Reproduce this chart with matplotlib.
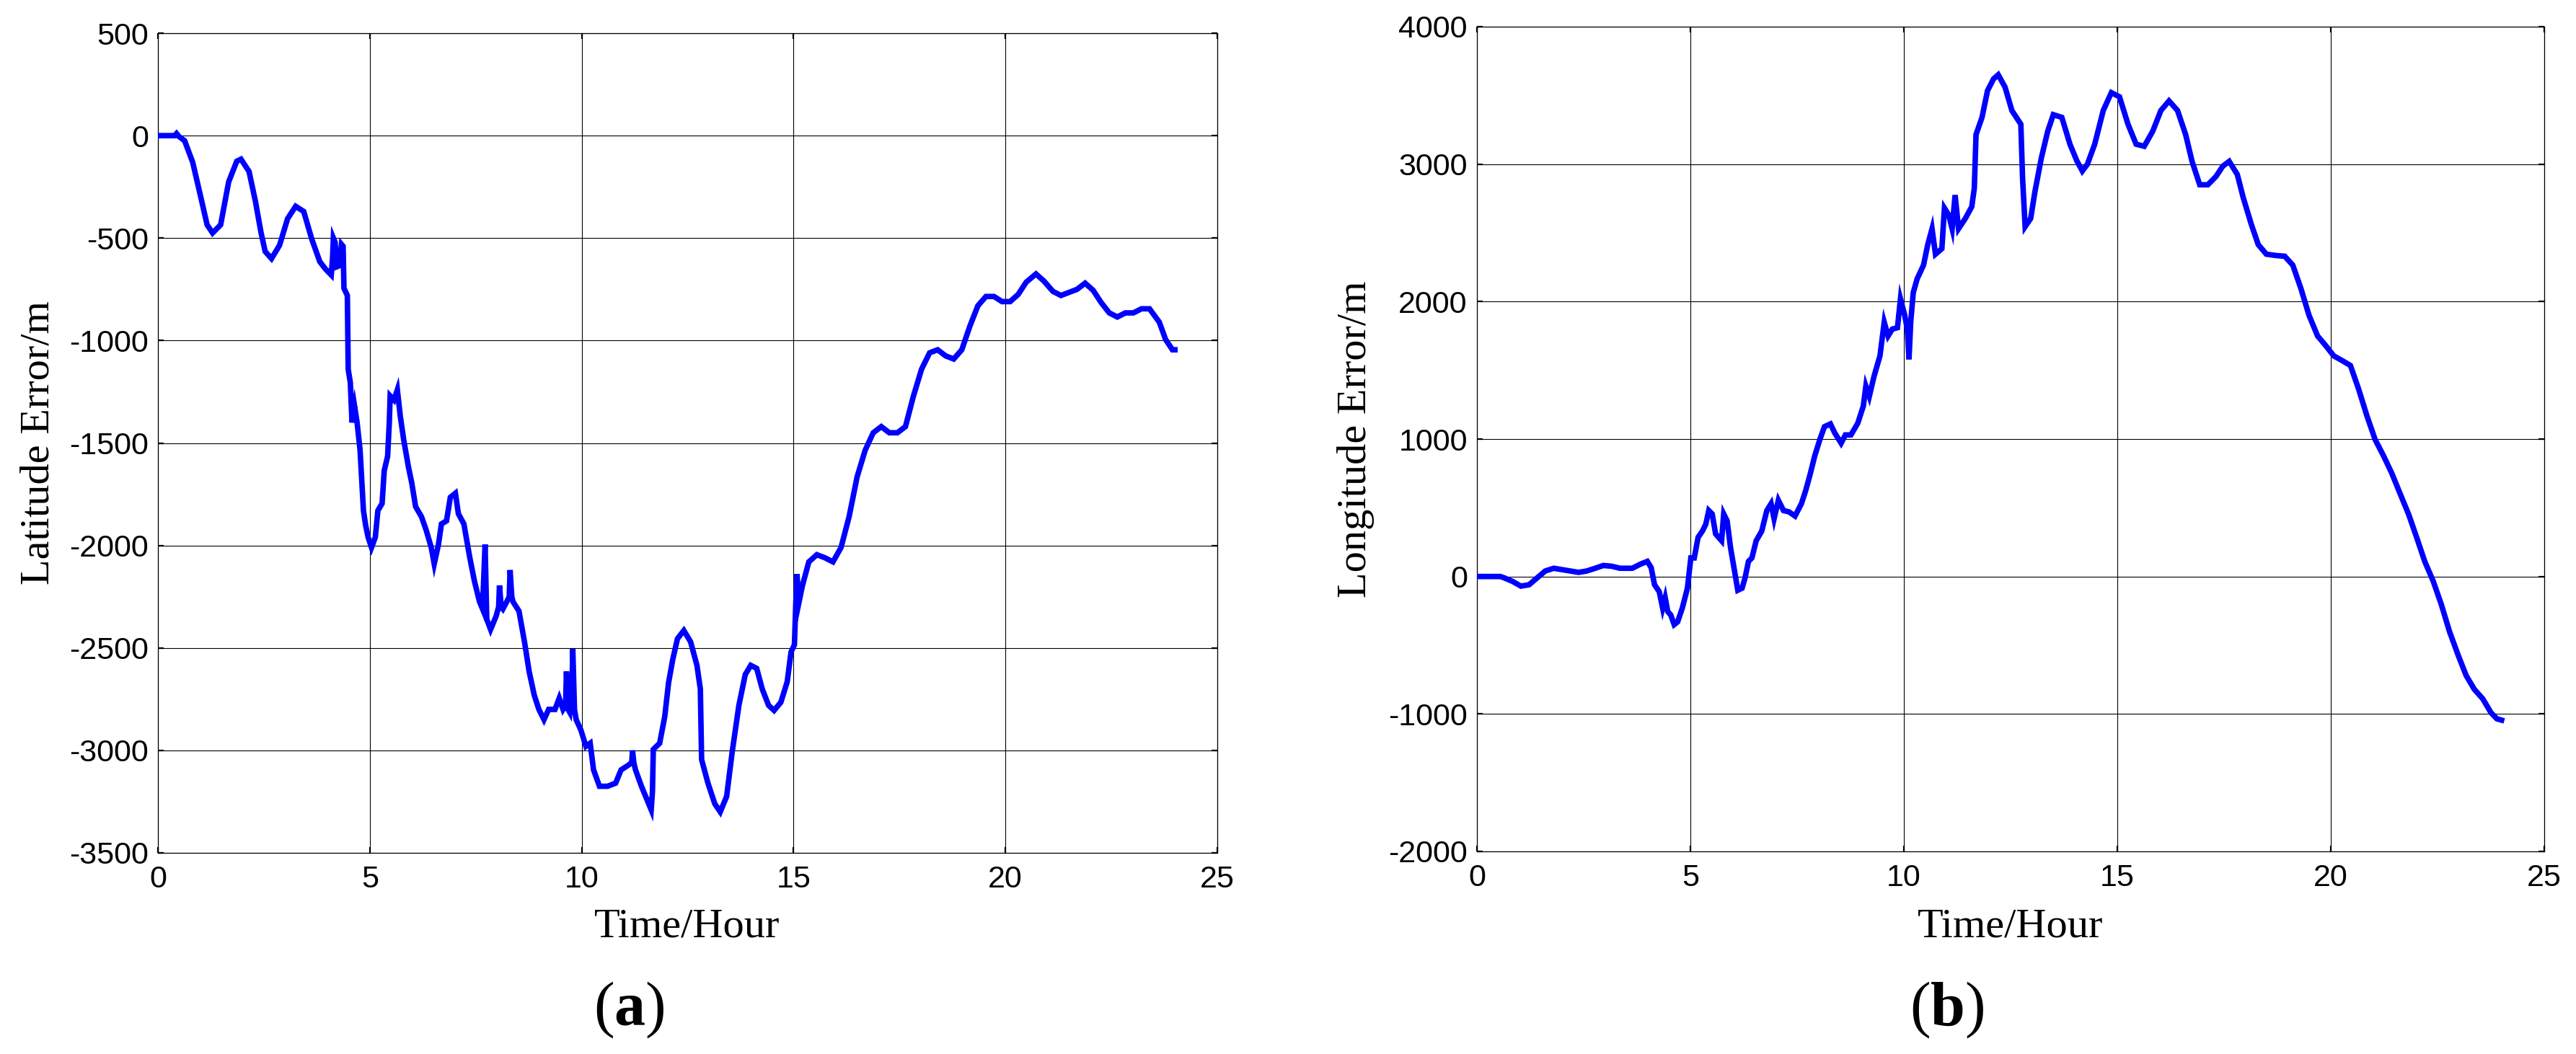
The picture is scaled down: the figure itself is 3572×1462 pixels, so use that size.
import matplotlib
matplotlib.use("Agg")
import matplotlib.pyplot as plt

plt.rcParams["axes.unicode_minus"] = False
plt.rcParams["mathtext.fontset"] = "custom"
plt.rcParams["mathtext.rm"] = "Liberation Serif"
plt.rcParams["mathtext.bf"] = "Liberation Serif:bold"

# ---------------- data ----------------
lat_t = [0, 0.40, 0.44, 0.50, 0.63, 0.82, 1.0, 1.16, 1.29, 1.48,
         1.67, 1.86, 1.96, 2.15, 2.3, 2.43, 2.53, 2.68, 2.87, 3.06,
         3.25, 3.44, 3.63, 3.82, 3.95, 4.09, 4.12, 4.14, 4.18, 4.22,
         4.28, 4.33, 4.37, 4.39, 4.47, 4.49, 4.54, 4.58, 4.64, 4.70,
         4.77, 4.85, 4.90, 4.96, 5.04, 5.13, 5.19, 5.29, 5.34, 5.42,
         5.46, 5.48, 5.57, 5.65, 5.72, 5.80, 5.91, 5.99, 6.08, 6.22,
         6.33, 6.45, 6.52, 6.62, 6.69, 6.81, 6.9, 7.02, 7.09, 7.22,
         7.36, 7.47, 7.59, 7.66, 7.70, 7.72, 7.76, 7.85, 7.98, 8.04,
         8.06, 8.10, 8.14, 8.23, 8.29, 8.31, 8.35, 8.38, 8.52, 8.65,
         8.76, 8.88, 8.99, 9.11, 9.22, 9.37, 9.47, 9.56, 9.62, 9.64,
         9.68, 9.72, 9.77, 9.79, 9.83, 9.87, 9.98, 10.1, 10.2, 10.28,
         10.42, 10.61, 10.8, 10.93, 11.08, 11.18, 11.2, 11.23, 11.27, 11.41,
         11.54, 11.64, 11.67, 11.69, 11.84, 11.96, 12.05, 12.15, 12.26, 12.41,
         12.57, 12.72, 12.80, 12.83, 12.98, 13.14, 13.27, 13.42, 13.55, 13.71,
         13.86, 13.99, 14.13, 14.26, 14.41, 14.54, 14.70, 14.85, 14.94, 15.02,
         15.05, 15.08, 15.13, 15.21, 15.36, 15.55, 15.74, 15.93, 16.12, 16.31,
         16.5, 16.69, 16.88, 17.07, 17.26, 17.45, 17.64, 17.83, 18.02, 18.21,
         18.4, 18.59, 18.78, 18.97, 19.16, 19.35, 19.54, 19.73, 19.92, 20.11,
         20.3, 20.49, 20.72, 20.91, 21.12, 21.31, 21.5, 21.69, 21.88, 22.07,
         22.26, 22.45, 22.64, 22.83, 23.02, 23.21, 23.4, 23.63, 23.78, 23.94,
         24.0]
lat_err = [0, 0, 10, -5, -25, -130, -290, -435, -475, -435,
           -225, -125, -115, -175, -320, -470, -565, -600, -535, -405,
           -345, -370, -505, -615, -650, -680, -600, -500, -520, -640,
           -635, -530, -540, -745, -780, -1140, -1205, -1400, -1320, -1400,
           -1535, -1830, -1900, -1960, -2010, -1960, -1830, -1795, -1635, -1565,
           -1400, -1270, -1290, -1240, -1370, -1485, -1615, -1695, -1810, -1860,
           -1925, -2010, -2090, -1995, -1895, -1880, -1765, -1745, -1845, -1895,
           -2060, -2175, -2275, -2310, -2100, -1995, -2360, -2410, -2345, -2300,
           -2195, -2300, -2310, -2275, -2250, -2120, -2250, -2275, -2320, -2470,
           -2615, -2730, -2800, -2850, -2800, -2800, -2745, -2800, -2780, -2615,
           -2800, -2815, -2700, -2505, -2800, -2850, -2900, -2980, -2965, -3095,
           -3175, -3175, -3160, -3095, -3075, -3060, -3000, -3060, -3095, -3175,
           -3240, -3290, -3200, -2995, -2965, -2835, -2670, -2555, -2455, -2415,
           -2470, -2585, -2700, -3045, -3160, -3260, -3300, -3225, -3010, -2780,
           -2630, -2585, -2600, -2700, -2780, -2805, -2765, -2665, -2520, -2485,
           -2300, -2140, -2275, -2195, -2080, -2045, -2060, -2080, -2010, -1860,
           -1665, -1535, -1450, -1420, -1450, -1450, -1420, -1270, -1140, -1060,
           -1045, -1075, -1090, -1045, -930, -830, -785, -785, -810, -810,
           -775, -715, -675, -710, -760, -780, -765, -750, -720, -755,
           -815, -865, -885, -865, -865, -845, -845, -910, -995, -1045,
           -1045]

lon_t = [0, 0.55, 0.64, 0.83, 1.03, 1.22, 1.41, 1.6, 1.8, 1.99,
         2.19, 2.38, 2.57, 2.77, 2.96, 3.15, 3.35, 3.64, 3.83, 3.99,
         4.08, 4.16, 4.27, 4.35, 4.41, 4.47, 4.54, 4.62, 4.70, 4.81,
         4.93, 5.01, 5.09, 5.18, 5.28, 5.36, 5.43, 5.51, 5.59, 5.66,
         5.73, 5.78, 5.86, 5.94, 6.02, 6.11, 6.21, 6.28, 6.36, 6.44,
         6.54, 6.67, 6.79, 6.89, 6.96, 7.06, 7.18, 7.31, 7.45, 7.6,
         7.7, 7.81, 7.91, 8.03, 8.14, 8.28, 8.38, 8.53, 8.63, 8.76,
         8.92, 9.05, 9.11, 9.19, 9.3, 9.44, 9.54, 9.63, 9.73, 9.85,
         9.92, 10.02, 10.08, 10.12, 10.16, 10.22, 10.31, 10.46, 10.56, 10.66,
         10.74, 10.89, 10.95, 11.05, 11.13, 11.2, 11.28, 11.44, 11.59, 11.65,
         11.69, 11.83, 11.96, 12.1, 12.21, 12.37, 12.53, 12.74, 12.78, 12.84,
         12.97, 13.07, 13.22, 13.37, 13.5, 13.7, 13.89, 14.05, 14.18, 14.3,
         14.47, 14.67, 14.86, 15.05, 15.25, 15.44, 15.63, 15.83, 16.02, 16.21,
         16.41, 16.6, 16.75, 16.93, 17.12, 17.31, 17.47, 17.62, 17.81, 17.95,
         18.14, 18.3, 18.49, 18.72, 18.92, 19.11, 19.3, 19.49, 19.69, 19.88,
         20.07, 20.27, 20.46, 20.65, 20.85, 21.04, 21.24, 21.43, 21.62, 21.82,
         22.01, 22.2, 22.4, 22.59, 22.78, 22.98, 23.17, 23.36, 23.56, 23.75,
         23.89, 24.0]
lon_err = [0, 0, -10, -35, -70, -60, -10, 40, 60, 50,
           40, 30, 40, 60, 80, 75, 60, 60, 90, 110,
           65, -60, -110, -230, -155, -255, -280, -350, -330, -230,
           -85, 135, 135, 285, 330, 380, 480, 455, 310, 285,
           260, 455, 405, 210, 65, -100, -85, -10, 110, 135,
           260, 330, 480, 530, 420, 555, 480, 470, 440, 530,
           625, 750, 875, 995, 1090, 1110, 1045, 970, 1030, 1030,
           1115, 1240, 1385, 1310, 1455, 1605, 1850, 1750, 1800, 1810,
           2020, 1900, 1800, 1580, 1850, 2065, 2165, 2265, 2415, 2530,
           2345, 2385, 2680, 2630, 2530, 2775, 2530, 2605, 2690, 2825,
           3215, 3340, 3535, 3620, 3650, 3560, 3390, 3290, 2900, 2545,
           2605, 2800, 3045, 3240, 3360, 3340, 3145, 3025, 2950, 3000,
           3145, 3390, 3520, 3490, 3290, 3145, 3130, 3240, 3390, 3460,
           3390, 3215, 3020, 2850, 2850, 2910, 2985, 3020, 2925, 2755,
           2560, 2415, 2345, 2335, 2330, 2265, 2095, 1900, 1750, 1680,
           1605, 1570, 1535, 1365, 1165, 995, 875, 750, 605, 455,
           285, 110, -35, -205, -400, -570, -720, -820, -890, -990,
           -1035, -1045]

x_ticks = [0, 5, 10, 15, 20, 25]
lat_ticks = [-3500, -3000, -2500, -2000, -1500, -1000, -500, 0, 500]
lon_ticks = [-2000, -1000, 0, 1000, 2000, 3000, 4000]

x_label = "Time/Hour"
lat_label = "Latitude Error/m"
lon_label = "Longitude Error/m"
panel_tags = ["($\\mathbf{a}$)", "($\\mathbf{b}$)"]

# ---------------- figure ----------------
W, H = 3572, 1462
fig = plt.figure(figsize=(W / 100, H / 100), dpi=100)
fig.patch.set_facecolor("white")

ax1 = fig.add_axes([219 / W, 1 - 1183 / H, 1469 / W, (1183 - 46) / H])
ax2 = fig.add_axes([2048 / W, 1 - 1181 / H, 1480 / W, (1181 - 37) / H])

tick_family = ["Liberation Sans Narrow", "Liberation Sans", "DejaVu Sans"]
serif = ["Liberation Serif", "DejaVu Serif"]

for ax, t, v, yt in [(ax1, lat_t, lat_err, lat_ticks), (ax2, lon_t, lon_err, lon_ticks)]:
    ax.plot(t, v, color="#0000ff", lw=5.5, solid_joinstyle="miter", zorder=3)
    ax.set_xlim(x_ticks[0], x_ticks[-1])
    ax.set_ylim(yt[0], yt[-1])
    ax.set_xticks(x_ticks)
    ax.set_yticks(yt)
    ax.grid(True, color="black", lw=0.8, ls="-")
    ax.set_axisbelow(True)
    for s in ax.spines.values():
        s.set_linewidth(0.9)
        s.set_color("black")
    ax.tick_params(direction="in", length=6, width=1.6, top=True, right=True,
                   labelsize=31, labelfontfamily=tick_family, colors="black")
    ax.tick_params(axis="x", pad=12)
    ax.tick_params(axis="y", pad=9.5)

# axis labels
fig.text(953 / W, 1 - 1300 / H, x_label, ha="center", va="baseline",
         fontsize=42, family=serif)
fig.text(2788 / W, 1 - 1300 / H, x_label, ha="center", va="baseline",
         fontsize=42, family=serif)
fig.text(68 / W, 1 - 614 / H, lat_label, rotation=90, rotation_mode="anchor",
         ha="center", va="baseline", fontsize=42, family=serif)
fig.text(1894 / W, 1 - 609 / H, lon_label, rotation=90, rotation_mode="anchor",
         ha="center", va="baseline", fontsize=42, family=serif)

# panel tags
fig.text(872 / W, 1 - 1422 / H, panel_tags[0], ha="center", va="baseline",
         fontsize=62, family=serif)
fig.text(2700 / W, 1 - 1422 / H, panel_tags[1], ha="center", va="baseline",
         fontsize=62, family=serif)

fig.savefig("out.png", dpi=100, facecolor="white")
